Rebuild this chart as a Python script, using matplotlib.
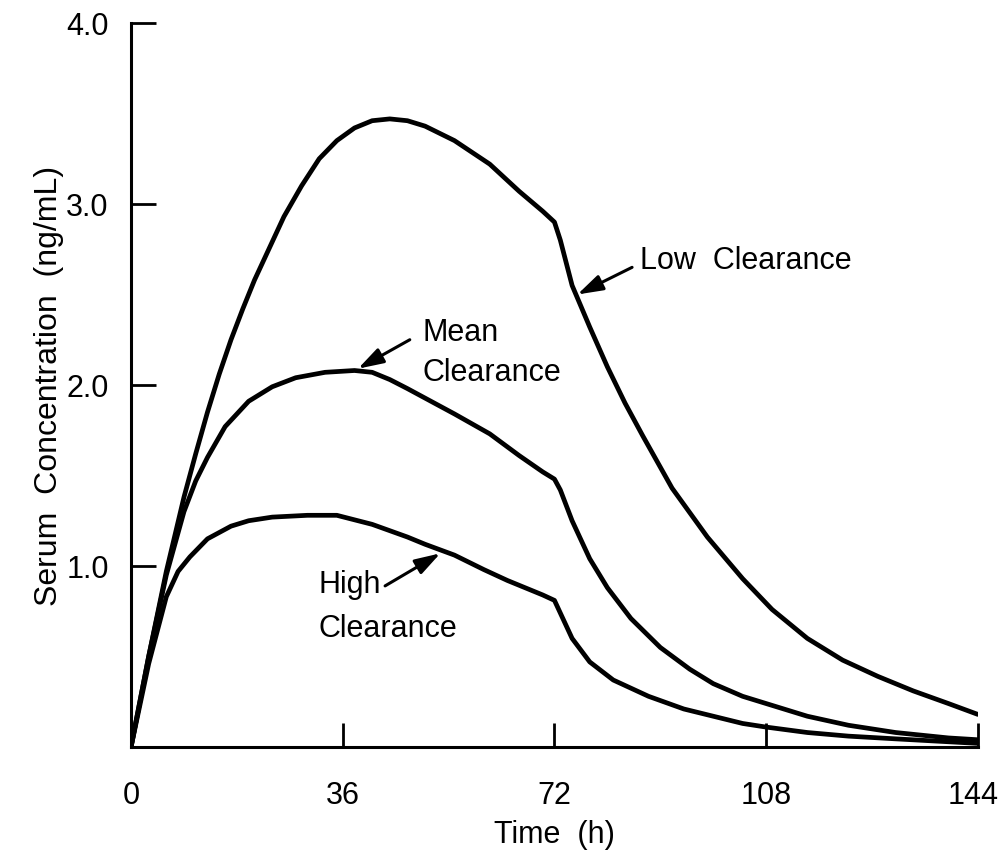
import matplotlib
matplotlib.use("Agg")
from matplotlib import pyplot as plt
from matplotlib import transforms

plt.rcParams['font.family'] = ['Liberation Sans', 'DejaVu Sans']

low_t = [0, 3, 6, 9, 11, 13, 15, 17, 19, 21, 23, 26, 29, 32, 35, 38, 41, 44,
         47, 50, 55, 61, 66, 70, 72, 73, 75, 78, 81, 84, 87, 92, 98, 104, 109,
         115, 121, 127, 133, 139, 144]
low_c = [0, 0.50, 0.97, 1.38, 1.62, 1.85, 2.06, 2.25, 2.42, 2.58, 2.72, 2.93,
         3.10, 3.25, 3.35, 3.42, 3.46, 3.47, 3.46, 3.43, 3.35, 3.22, 3.07,
         2.96, 2.90, 2.80, 2.55, 2.32, 2.10, 1.90, 1.72, 1.43, 1.16, 0.93,
         0.76, 0.60, 0.48, 0.39, 0.31, 0.24, 0.18]

mean_t = [0, 3, 6, 9, 11, 13, 16, 20, 24, 28, 33, 38, 41, 44, 47, 51, 55, 61,
          66, 70, 72, 73, 75, 78, 81, 85, 90, 95, 99, 104, 108, 115, 122, 130,
          139, 144]
mean_c = [0, 0.50, 0.95, 1.30, 1.47, 1.60, 1.77, 1.91, 1.99, 2.04, 2.07, 2.08,
          2.07, 2.03, 1.98, 1.91, 1.84, 1.73, 1.61, 1.52, 1.48, 1.42, 1.25,
          1.04, 0.88, 0.71, 0.55, 0.43, 0.35, 0.28, 0.24, 0.17, 0.12, 0.08,
          0.05, 0.04]

high_t = [0, 3, 6, 8, 10, 13, 17, 20, 24, 30, 35, 41, 47, 50, 55, 60, 64, 70,
          72, 73, 75, 78, 82, 88, 94, 99, 104, 108, 115, 122, 130, 144]
high_c = [0, 0.46, 0.83, 0.97, 1.05, 1.15, 1.22, 1.25, 1.27, 1.28, 1.28, 1.23,
          1.16, 1.12, 1.06, 0.98, 0.92, 0.84, 0.81, 0.74, 0.60, 0.47, 0.37,
          0.28, 0.21, 0.17, 0.13, 0.11, 0.08, 0.06, 0.045, 0.02]

x_ticks = [0, 36, 72, 108, 144]
y_ticks = [1.0, 2.0, 3.0, 4.0]
y_labels = ['1.0', '2.0', '3.0', '4.0']

fig = plt.figure(figsize=(10.01, 8.53), dpi=100)
ax = fig.add_axes([0.1309, 0.1231, 0.846, 0.8488])

for t, c in [(low_t, low_c), (mean_t, mean_c), (high_t, high_c)]:
    ax.plot(t, c, color='black', lw=3.4, solid_joinstyle='round',
            solid_capstyle='round')

ax.set_xlim(0, 144)
ax.set_ylim(0, 4.0)
ax.set_xticks(x_ticks)
ax.set_xticklabels([str(v) for v in x_ticks])
ax.set_yticks(y_ticks)
ax.set_yticklabels(y_labels)

for s in ['top', 'right']:
    ax.spines[s].set_visible(False)
for s in ['left', 'bottom']:
    ax.spines[s].set_linewidth(2.2)

ax.tick_params(axis='x', direction='in', length=17, width=2, labelsize=22, pad=24)
ax.tick_params(axis='y', direction='in', length=18, width=2, labelsize=22, pad=16)

# last x label sits right at the figure edge, nudge it in a little
last = ax.get_xticklabels()[-1]
last.set_transform(last.get_transform() +
                   transforms.ScaledTranslation(-5 / 100, 0, fig.dpi_scale_trans))

ax.set_xlabel('Time  (h)', fontsize=22, labelpad=6)
ax.set_ylabel('Serum  Concentration  (ng/mL)', fontsize=23, labelpad=2)

arrow = dict(arrowstyle='-|>,head_length=0.7,head_width=0.22', color='black',
             lw=2.2, mutation_scale=22, shrinkA=0, shrinkB=0)
ax.annotate('', xy=(75.9, 2.50), xytext=(85.2, 2.65), arrowprops=arrow)
ax.text(86.6, 2.69, 'Low  Clearance', fontsize=22, va='center', ha='left')

ax.annotate('', xy=(38.6, 2.09), xytext=(47.4, 2.25), arrowprops=arrow)
ax.text(49.5, 2.29, 'Mean', fontsize=22, va='center', ha='left')
ax.text(49.5, 2.07, 'Clearance', fontsize=22, va='center', ha='left')

ax.annotate('', xy=(52.6, 1.07), xytext=(43.2, 0.89), arrowprops=arrow)
ax.text(31.8, 0.90, 'High', fontsize=22, va='center', ha='left')
ax.text(31.8, 0.66, 'Clearance', fontsize=22, va='center', ha='left')

fig.savefig('out.png', dpi=100)
